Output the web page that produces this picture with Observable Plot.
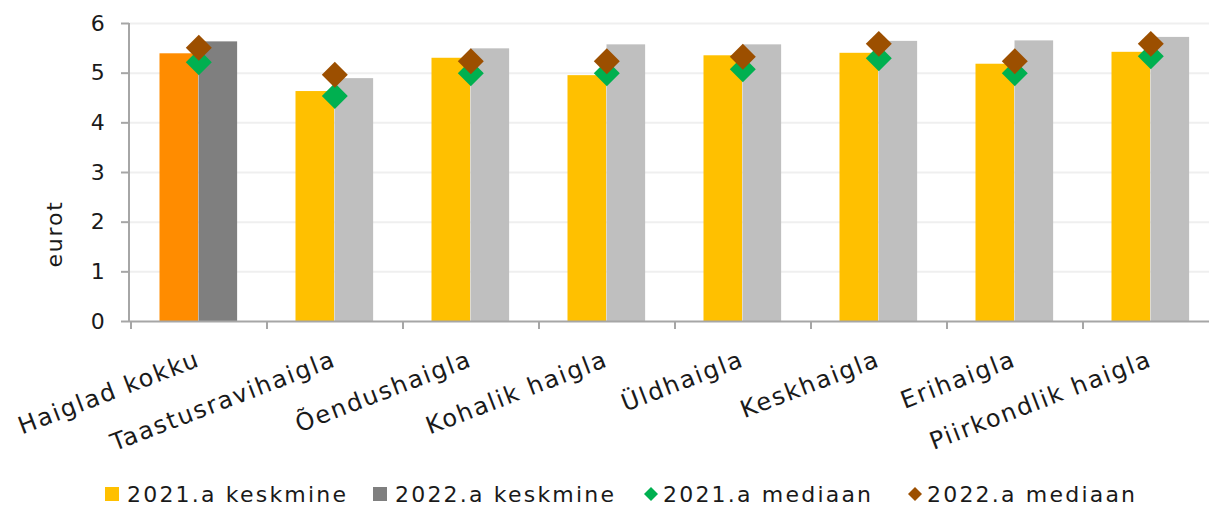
<!DOCTYPE html>
<html><head><meta charset="utf-8">
<script src="https://cdn.jsdelivr.net/npm/d3@7"></script>
<script src="https://cdn.jsdelivr.net/npm/@observablehq/plot@0.6"></script>
<style>
body{margin:0;background:#fff;overflow:hidden;font-family:"DejaVu Sans",sans-serif;color:#1a1a1a;}
#wrap{position:relative;width:1209px;height:506px;overflow:hidden;}
#chart{position:absolute;left:0;top:0;width:1221px;}
#chart svg{max-width:none !important;}
#chart svg text{letter-spacing:1.8px;}
.legend{position:absolute;left:0;top:478px;width:1209px;height:32px;font-size:22px;letter-spacing:2.2px;}
.item{position:absolute;top:0;display:flex;align-items:center;height:32px;white-space:nowrap;}
.sw{display:inline-block;width:14px;height:14px;margin-right:8px;}
</style></head><body>
<div id="wrap"><div id="chart"></div><div class="legend" id="legend"></div></div>
<script>
const categories = ["Haiglad kokku","Taastusravihaigla","Õendushaigla","Kohalik haigla","Üldhaigla","Keskhaigla","Erihaigla","Piirkondlik haigla"];
const mean2021   = [5.39, 4.63, 5.30, 4.95, 5.35, 5.40, 5.18, 5.42];
const mean2022   = [5.63, 4.89, 5.49, 5.57, 5.57, 5.64, 5.65, 5.72];
const median2021 = [5.22, 4.54, 5.00, 5.00, 5.08, 5.30, 5.00, 5.34];
const median2022 = [5.51, 4.97, 5.24, 5.24, 5.33, 5.59, 5.24, 5.59];
const yTicks = [0, 1, 2, 3, 4, 5, 6];
const seriesLabels = ["2021.a keskmine", "2022.a keskmine", "2021.a mediaan", "2022.a mediaan"];
const yLabel = "eurot";

const rows = (vals) => categories.map((c, i) => ({cat: c, value: vals[i], i}));
const r21 = rows(mean2021), r22 = rows(mean2022), m21 = rows(median2021), m22 = rows(median2022);

const textColor = "#1a1a1a";
const axisColor = "#A6A6A6";
const bw = 1091 / 8;

const plot = Plot.plot({
  width: 1221, height: 476,
  marginLeft: 129, marginRight: 1, marginTop: 23, marginBottom: 155,
  style: {fontFamily: '"DejaVu Sans", sans-serif', background: "transparent", overflow: "visible"},
  x: {domain: categories, padding: 0, axis: null},
  y: {domain: [0, 6], axis: null},
  marks: [
    Plot.ruleY(yTicks.filter(d => d > 0), {stroke: "#EFEFEF", strokeWidth: 2}),
    Plot.barY(r21, {x: "cat", y: "value", fill: d => d.i === 0 ? "#FF8C00" : "#FFC000", insetLeft: 28.5, insetRight: bw - 67.5}),
    Plot.barY(r22, {x: "cat", y: "value", fill: d => d.i === 0 ? "#7F7F7F" : "#BFBFBF", insetLeft: 67.5, insetRight: bw - 106.5}),
    Plot.ruleY([0], {stroke: axisColor, strokeWidth: 2}),
    Plot.axisY({ticks: yTicks, tickSize: 8, text: null, label: null, stroke: axisColor, strokeWidth: 2}),
    Plot.axisY({ticks: yTicks, tickSize: 0, tickPadding: 23, tickFormat: d3.format("d"), fontSize: 22, fill: textColor, label: null}),
    Plot.dot(m21, {x: "cat", y: "value", symbol: "diamond2", r: 11.7, fill: "#00B050", dx: -0.7}),
    Plot.dot(m22, {x: "cat", y: "value", symbol: "diamond2", r: 11.7, fill: "#9C4F00", dx: -0.7}),
    Plot.text(categories, {x: d => d, y: () => 0, text: d => d, rotate: -21, textAnchor: "end", lineAnchor: "bottom", dy: 44, dx: 2, fontSize: 24, fill: textColor})
  ]
});

// axis lines and band-boundary ticks from the library's scales
const xs = plot.scale("x"), ys = plot.scale("y");
const svg = d3.select(plot);
const y0 = ys.apply(0), yTop = ys.apply(6);
const gx = svg.append("g").attr("stroke", axisColor).attr("stroke-width", 2);
gx.append("line").attr("x1", 129).attr("x2", 129).attr("y1", yTop).attr("y2", y0 + 1);
const bounds = categories.map(c => xs.apply(c)).concat([xs.apply(categories[categories.length - 1]) + xs.bandwidth]);
bounds.forEach(b => gx.append("line").attr("x1", b).attr("x2", b).attr("y1", y0).attr("y2", y0 + 8));
svg.append("text").text(yLabel)
  .attr("transform", `translate(62,${(y0 + yTop) / 2 + 62}) rotate(-90)`)
  .attr("text-anchor", "middle").attr("font-size", 22).attr("fill", textColor);

document.getElementById("chart").appendChild(plot);

// legend
const legendX = [105, 373, 643, 907];
const legendSym = [
  `<span class="sw" style="background:#FFC000"></span>`,
  `<span class="sw" style="background:#7F7F7F"></span>`,
  `<svg width="16" height="16" style="margin-right:4px"><path d="M8 1L15 8L8 15L1 8Z" fill="#00B050"/></svg>`,
  `<svg width="16" height="16" style="margin-right:4px"><path d="M8 1L15 8L8 15L1 8Z" fill="#9C4F00"/></svg>`
];
const lg = document.getElementById("legend");
seriesLabels.forEach((s, i) => {
  const d = document.createElement("div");
  d.className = "item";
  d.style.left = legendX[i] + "px";
  d.innerHTML = legendSym[i] + `<span>${s}</span>`;
  lg.appendChild(d);
});
</script>
</body></html>
